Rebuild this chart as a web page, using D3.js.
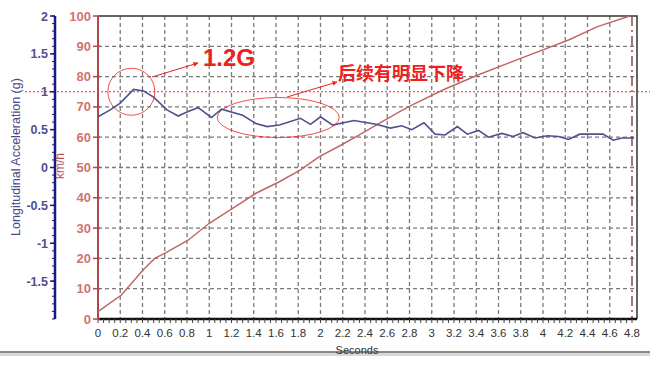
<!DOCTYPE html>
<html>
<head>
<meta charset="utf-8">
<script src="https://cdn.jsdelivr.net/npm/d3@7"></script>
<style>
  body { margin: 0; background: #fff; }
  svg { display: block; font-family: Arial, "Liberation Sans", sans-serif; }
</style>
</head>
<body>
<svg id="chart" width="650" height="366"></svg>
<script>
// time ticks (seconds), speed in km/h, acceleration in g
const timeTicks = [0, 0.2, 0.4, 0.6, 0.8, 1, 1.2, 1.4, 1.6, 1.8, 2, 2.2, 2.4, 2.6, 2.8, 3, 3.2, 3.4, 3.6, 3.8, 4, 4.2, 4.4, 4.6, 4.8]
const speedTicks = [0, 10, 20, 30, 40, 50, 60, 70, 80, 90, 100]
const accelTicks = [2, 1.5, 1, 0.5, 0, -0.5, -1, -1.5]

const speedT = [0, 0.21, 0.405, 0.51, 0.615, 0.81, 1.0, 1.21, 1.42, 1.63, 1.82, 1.99, 2.17, 2.345, 2.52, 2.7, 2.82, 3.12, 3.42, 3.84, 4.23, 4.49, 4.78]
const speedV = [2.4, 7.9, 16.2, 20, 22, 26, 31.6, 36.5, 41.5, 45.3, 49.2, 53.6, 57.1, 60.7, 64.4, 68.2, 70.6, 75.9, 80.6, 86.6, 92.1, 96.5, 100]

const accelT = [0, 0.11, 0.2, 0.32, 0.41, 0.5, 0.62, 0.72, 0.81, 0.9, 1.02, 1.11, 1.3, 1.42, 1.52, 1.63, 1.82, 1.91, 2.0, 2.11, 2.3, 2.5, 2.63,
  2.73, 2.82, 2.93, 3.03, 3.12, 3.23, 3.32, 3.42, 3.51, 3.63, 3.73, 3.82, 3.93, 4.04, 4.14, 4.23, 4.33, 4.44, 4.54, 4.63, 4.71, 4.82]
const accelG = [0.67, 0.76, 0.85, 1.03, 1.01, 0.93, 0.76, 0.68, 0.74, 0.79, 0.66, 0.77, 0.69, 0.58, 0.54, 0.56, 0.65, 0.57, 0.67, 0.56, 0.62, 0.57, 0.52,
  0.55, 0.50, 0.59, 0.44, 0.43, 0.54, 0.44, 0.49, 0.40, 0.45, 0.41, 0.46, 0.39, 0.42, 0.41, 0.37, 0.44, 0.44, 0.44, 0.36, 0.39, 0.39]

const svg = d3.select("#chart")

const x = d3.scaleLinear().domain([0, 4.8]).range([98, 632])
const ySpeed = d3.scaleLinear().domain([0, 100]).range([319, 16])
const yAccel = d3.scaleLinear().domain([-2, 2]).range([319, 16])

// grid
const grid = svg.append("g")
    .attr("stroke", "#7a7a7a")
    .attr("stroke-width", 1.3)
    .attr("stroke-dasharray", "4,3")
grid.selectAll("line.v").data(timeTicks.slice(1, -1))
  .enter().append("line")
    .attr("x1", d => x(d)).attr("x2", d => x(d))
    .attr("y1", 16).attr("y2", 319)
grid.selectAll("line.h").data(speedTicks.slice(1, -1))
  .enter().append("line")
    .attr("class", "h")
    .attr("x1", 98).attr("x2", 637)
    .attr("y1", d => ySpeed(d)).attr("y2", d => ySpeed(d))

// frame top and right
svg.append("path")
    .attr("d", "M98,16H637V319")
    .attr("fill", "none")
    .attr("stroke", "#333")
    .attr("stroke-width", 1.5)

// end marker at 4.8 s
svg.append("line")
    .attr("x1", x(4.8)).attr("x2", x(4.8))
    .attr("y1", 16).attr("y2", 319)
    .attr("stroke", "#8a4a4a")
    .attr("stroke-width", 1.5)
    .attr("stroke-dasharray", "10,4,2,4")

// reference line at 1 g
svg.append("line")
    .attr("x1", 25).attr("x2", 650)
    .attr("y1", yAccel(1)).attr("y2", yAccel(1))
    .attr("stroke", "#e03030")
    .attr("stroke-width", 1)
    .attr("stroke-dasharray", "2,2")

// bottom axis
const xAxis = svg.append("g")
    .attr("transform", "translate(0,319)")
xAxis.append("line")
    .attr("x1", 98).attr("x2", 637)
    .attr("stroke", "#111").attr("stroke-width", 2.5)
xAxis.selectAll("line.minor").data(d3.range(0, 4.801, 0.05))
  .enter().append("line")
    .attr("x1", d => x(d)).attr("x2", d => x(d))
    .attr("y1", 0).attr("y2", 4)
    .attr("stroke", "#444")
xAxis.selectAll("text").data(timeTicks)
  .enter().append("text")
    .attr("x", d => x(d))
    .attr("y", 18)
    .attr("text-anchor", "middle")
    .attr("font-size", 11.5)
    .attr("fill", "#333")
    .text(d => d)

svg.append("line")
    .attr("x1", 0).attr("x2", 650)
    .attr("y1", 352).attr("y2", 352)
    .attr("stroke", "#8a8a8a").attr("stroke-width", 2)
svg.append("rect")
    .attr("x", 0).attr("y", 353).attr("width", 650).attr("height", 3)
    .attr("fill", "#d8d8d8")
svg.append("text")
    .attr("x", 357).attr("y", 354)
    .attr("text-anchor", "middle")
    .attr("font-size", 11)
    .attr("fill", "#333")
    .text("Seconds")

// km/h axis
const sAxis = svg.append("g").attr("transform", "translate(98,0)")
sAxis.append("line")
    .attr("y1", 16).attr("y2", 319)
    .attr("stroke", "#b04848").attr("stroke-width", 2)
sAxis.selectAll("line.t").data(speedTicks)
  .enter().append("line")
    .attr("x1", -5).attr("x2", 2)
    .attr("y1", d => ySpeed(d)).attr("y2", d => ySpeed(d))
    .attr("stroke", "#b04848").attr("stroke-width", 1.5)
sAxis.selectAll("text").data(speedTicks)
  .enter().append("text")
    .attr("x", -7)
    .attr("y", d => ySpeed(d) + 4.5)
    .attr("text-anchor", "end")
    .attr("font-size", 13)
    .attr("font-weight", "bold")
    .attr("fill", "#d27272")
    .text(d => d)
svg.append("text")
    .attr("transform", "translate(64,166) rotate(-90)")
    .attr("text-anchor", "middle")
    .attr("font-size", 12)
    .attr("fill", "#c05050")
    .text("km/h")

// g axis
const gAxis = svg.append("g").attr("transform", "translate(55,0)")
gAxis.append("line")
    .attr("y1", 16).attr("y2", 319)
    .attr("stroke", "#1a1a80").attr("stroke-width", 2.5)
gAxis.selectAll("line.m").data(d3.range(-2, 2.001, 0.1))
  .enter().append("line")
    .attr("x1", -3).attr("x2", 0)
    .attr("y1", d => yAccel(d)).attr("y2", d => yAccel(d))
    .attr("stroke", "#1a1a80")
gAxis.selectAll("line.t").data(accelTicks)
  .enter().append("line")
    .attr("x1", -5).attr("x2", 0)
    .attr("y1", d => yAccel(d)).attr("y2", d => yAccel(d))
    .attr("stroke", "#1a1a80").attr("stroke-width", 1.5)
gAxis.selectAll("text").data(accelTicks)
  .enter().append("text")
    .attr("x", -7)
    .attr("y", d => yAccel(d) + 4.5)
    .attr("text-anchor", "end")
    .attr("font-size", 12.5)
    .attr("font-weight", "bold")
    .attr("fill", "#50508e")
    .text(d => d)
svg.append("text")
    .attr("transform", "translate(20,157) rotate(-90)")
    .attr("text-anchor", "middle")
    .attr("font-size", 12.5)
    .attr("fill", "#4a4a8a")
    .text("Longitudinal Acceleration (g)")

// series
const speedLine = d3.line().x(d => x(d[0])).y(d => ySpeed(d[1]))
svg.append("path")
    .datum(d3.zip(speedT, speedV))
    .attr("d", speedLine)
    .attr("fill", "none")
    .attr("stroke", "#c06868")
    .attr("stroke-width", 1.5)

const accelLine = d3.line().x(d => x(d[0])).y(d => yAccel(d[1]))
svg.append("path")
    .datum(d3.zip(accelT, accelG))
    .attr("d", accelLine)
    .attr("fill", "none")
    .attr("stroke", "#50508c")
    .attr("stroke-width", 1.6)

// annotations
const red = "#ee2020"
svg.append("defs").append("marker")
    .attr("id", "arrow")
    .attr("viewBox", "0 0 10 10")
    .attr("refX", 9).attr("refY", 5)
    .attr("markerWidth", 5).attr("markerHeight", 5)
    .attr("orient", "auto")
  .append("path")
    .attr("d", "M0,0L10,5L0,10z")
    .attr("fill", red)

svg.append("circle")
    .attr("cx", x(0.3)).attr("cy", yAccel(1))
    .attr("r", 23.5)
    .attr("fill", "none").attr("stroke", red).attr("stroke-width", 0.8)
svg.append("line")
    .attr("x1", 152).attr("y1", 77).attr("x2", 198).attr("y2", 63)
    .attr("stroke", red).attr("stroke-width", 1)
    .attr("marker-end", "url(#arrow)")
svg.append("text")
    .attr("x", 203).attr("y", 66)
    .attr("font-size", 24)
    .attr("font-weight", "bold")
    .attr("fill", red)
    .text("1.2G")

svg.append("ellipse")
    .attr("cx", x(1.62)).attr("cy", yAccel(0.66))
    .attr("rx", 61).attr("ry", 20)
    .attr("fill", "none").attr("stroke", red).attr("stroke-width", 0.8)
svg.append("line")
    .attr("x1", 287).attr("y1", 97).attr("x2", 337).attr("y2", 82)
    .attr("stroke", red).attr("stroke-width", 1)
    .attr("marker-end", "url(#arrow)")
svg.append("text")
    .attr("x", 338).attr("y", 80)
    .attr("font-family", "'Noto Sans CJK SC', sans-serif")
    .attr("font-size", 18)
    .attr("font-weight", "bold")
    .attr("fill", red)
    .text("后续有明显下降")
</script>
</body>
</html>
